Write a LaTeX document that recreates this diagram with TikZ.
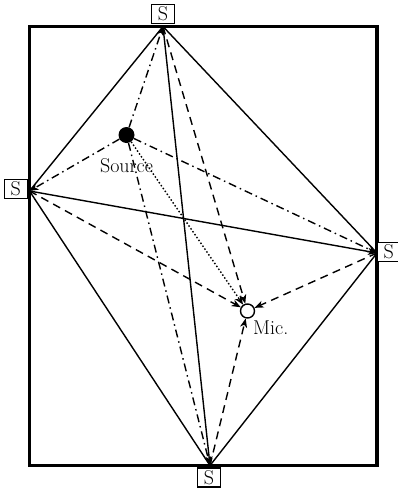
\documentclass[tikz,border=0pt]{standalone}
\usepackage{tikz}
\usetikzlibrary{arrows.meta, positioning}
\tikzset{
  ray/.style      = {line width=1.4pt},
  rayarr/.style   = {ray, -{Stealth[length=9pt, width=7pt, inset=2.5pt]}},
  direct/.style   = {rayarr, dash pattern=on 1.5pt off 2pt},
  first/.style    = {rayarr, dash pattern=on 8pt off 4pt on 1.5pt off 4pt},
  second/.style   = {rayarr, dash pattern=on 8pt off 5.5pt},
  sbox/.style     = {draw, fill=white, line width=1.5pt, inner sep=0pt,
                     minimum width=23pt, minimum height=19pt},
  lbl/.style      = {inner sep=0pt},
}

\begin{document}
\begin{tikzpicture}[x=1pt, y=-1pt, font=\fontsize{20}{23}\selectfont]
    \useasboundingbox (0,0) rectangle (398,493);

    % room
    \draw[line width=3.2pt] (29.5,26.5) rectangle (377,465.5);

    % loudspeakers
    \coordinate (t) at (163,26.5);
    \coordinate (l) at (29.5,191);
    \coordinate (r) at (377,253);
    \coordinate (b) at (210,465.5);

    \node[circle, fill=black, inner sep=0pt, minimum size=16pt] (src) at (126.5,135) {};
    \node[circle, draw, fill=white, line width=1.4pt, inner sep=0pt, minimum size=14pt] (mic) at (247.5,311) {};
    \node[lbl] (srclbl) at (126.5,166) {Source};
    \node[lbl, anchor=north west] (miclbl) at (253,321) {Mic.};

    % diamond
    \draw[ray] (t) -- (l) -- (b) -- (r) -- cycle;
    \draw[rayarr] (l) -- (r);
    \draw[rayarr] (t) -- (b);

    % first order
    \draw[first] (src) -- (t);
    \draw[first] (src) -- (l);
    \draw[first] (src) -- (r);
    \draw[first] (src) -- (b);

    % direct path
    \draw[direct] (src) -- (mic);

    % second order
    \draw[second] (t) -- (mic);
    \draw[second] (l) -- (mic);
    \draw[second] (r) -- (mic);
    \draw[second] (b) -- (mic);

    \node[sbox, anchor=south] (st) at (163,24) {S};
    \node[sbox, anchor=east]  (sl) at (28,189) {S};
    \node[sbox, anchor=west]  (sr) at (376.5,252) {S};
    \node[sbox, anchor=north] (sb) at (209,467) {S};
  \end{tikzpicture}
\end{document}
